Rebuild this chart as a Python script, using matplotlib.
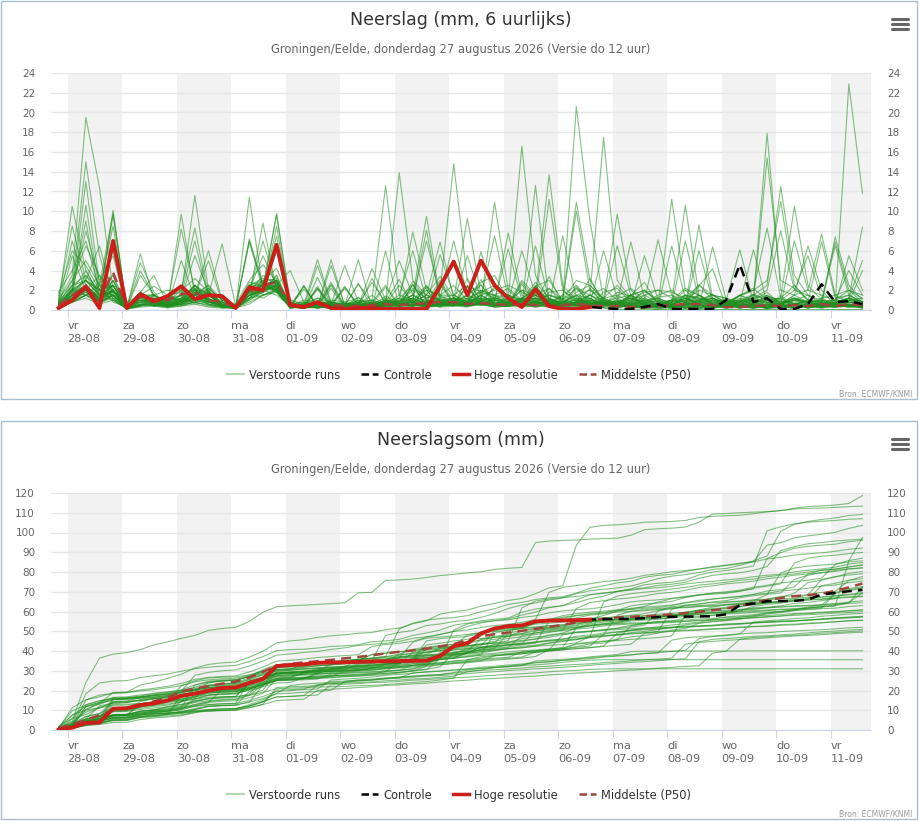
import numpy as np
import matplotlib
matplotlib.use("Agg")
import matplotlib.pyplot as plt
from matplotlib.lines import Line2D
from matplotlib.patches import Rectangle

plt.rcParams['font.family'] = ['DejaVu Sans']

# tijd-as: 60 stappen van 6 uur, eerste stap eindigt do 20:00 (4 uur voor vr 00:00)
n_steps = 60
start_hour = -4
day_names = ['vr', 'za', 'zo', 'ma', 'di', 'wo', 'do', 'vr', 'za', 'zo', 'ma', 'di', 'wo', 'do', 'vr']
day_dates = ['28-08', '29-08', '30-08', '31-08', '01-09', '02-09', '03-09', '04-09',
             '05-09', '06-09', '07-09', '08-09', '09-09', '10-09', '11-09']

# neerslag per 6 uur (mm), 50 verstoorde runs; blokken: eerste stap | dag 0 | dag 1 | ...
members_6h = [
    "1.0 | 3.5 19.5 12.4 2.0 | 0.8 1.5 2.4 1.5 | 1.8 1.5 2.5 1.0 | 0.6 3.0 4.6 2.8 | 0.5 0.3 0.4 0.4 | 0.4 5.1 0.2 6.0 | 0.3 0.4 0.8 1.0 | 0.6 0.8 0.5 1.2 | 0.6 0.4 12.6 0.8 | 0.3 0.2 0.4 0.3 | 0.2 1.5 2.8 0.5 | 0.3 0.6 2.4 4.2 | 0.2 0.4 0.3 0.2 | 0.6 0.8 0.3 0.2 | 0.3 0.4 0.2",
    "0.5 | 2.0 8.0 3.0 5.5 | 0.2 3.5 1.5 2.0 | 2.0 3.2 1.8 0.8 | 0.4 2.5 3.0 4.2 | 1.0 0.6 1.2 0.8 | 0.5 0.8 0.4 1.4 | 0.8 2.2 1.5 3.4 | 1.2 0.8 2.0 1.4 | 1.5 1.0 2.4 3.0 | 1.0 20.6 9.0 1.0 | 0.3 0.5 0.8 0.2 | 0.2 0.5 1.5 0.6 | 0.3 0.2 0.8 1.0 | 0.6 1.2 0.8 0.4 | 0.4 0.8 4.0",
    "0.8 | 10.5 4.0 1.5 2.0 | 0.3 1.2 0.8 1.0 | 1.5 2.0 1.0 0.5 | 0.3 2.0 2.5 3.0 | 0.4 0.6 0.8 0.5 | 0.5 0.4 4.2 1.0 | 0.6 1.0 2.0 1.5 | 1.5 2.5 1.8 1.2 | 0.8 2.0 1.5 2.2 | 1.0 3.0 2.5 1.0 | 0.6 1.5 2.0 0.8 | 0.5 1.2 2.5 1.5 | 0.8 1.0 1.2 17.9 | 2.0 1.5 0.8 0.5 | 0.4 0.6 0.3",
    "1.2 | 8.5 3.0 2.0 1.5 | 0.2 0.8 1.5 0.6 | 0.8 1.5 2.2 1.0 | 0.5 1.8 3.5 2.5 | 0.3 0.2 0.5 0.4 | 0.3 1.0 0.6 0.8 | 1.2 2.5 1.0 0.8 | 0.6 1.5 2.8 3.5 | 1.0 0.8 2.0 1.2 | 0.5 1.2 0.8 0.6 | 1.4 2.2 1.0 0.5 | 0.8 2.0 1.5 0.6 | 0.4 0.8 1.0 15.4 | 3.0 2.2 1.0 0.6 | 0.5 1.2 0.8",
    "0.6 | 7.0 2.5 1.0 3.0 | 0.2 0.5 1.0 1.2 | 2.0 1.5 1.0 0.8 | 0.4 2.2 1.8 3.5 | 0.5 1.0 0.8 0.6 | 0.4 0.8 1.0 12.6 | 1.5 1.0 2.5 0.8 | 1.2 0.6 1.5 2.0 | 2.5 1.8 1.0 1.5 | 1.0 2.2 1.5 0.8 | 0.6 1.0 1.8 2.0 | 1.2 0.8 1.0 1.6 | 0.5 1.5 2.0 8.3 | 1.2 2.5 1.0 0.8 | 1.0 2.0 1.5",
    "1.5 | 6.0 4.5 2.0 2.5 | 0.3 1.0 0.5 0.8 | 1.2 2.5 1.5 0.6 | 0.5 1.5 2.5 2.0 | 0.8 0.5 1.2 0.4 | 0.6 1.0 0.5 0.8 | 13.9 3.0 1.5 0.8 | 0.5 1.0 2.0 1.5 | 2.2 1.0 1.5 0.8 | 0.6 1.8 2.5 1.2 | 1.5 0.8 2.0 1.0 | 0.5 1.5 1.2 0.8 | 1.0 0.8 1.5 2.5 | 12.5 3.5 1.5 1.0 | 0.8 1.2 0.6",
    "0.3 | 5.5 2.0 3.5 1.2 | 0.1 0.6 1.2 0.5 | 0.8 1.0 2.0 0.4 | 0.3 1.5 3.0 2.2 | 0.2 0.3 0.6 0.3 | 0.3 0.5 0.2 1.0 | 5.0 1.5 0.8 0.6 | 0.4 1.2 1.8 2.5 | 1.0 2.0 0.8 0.5 | 1.5 2.5 1.0 0.6 | 0.8 1.2 0.5 0.3 | 1.0 2.2 1.5 0.8 | 0.6 1.4 2.0 3.0 | 11.0 2.5 1.0 0.5 | 0.6 1.0 0.5",
    "0.8 | 2.5 15.0 5.5 1.0 | 0.2 1.5 1.0 0.8 | 1.5 1.2 0.8 0.5 | 0.4 2.0 2.5 3.0 | 0.5 0.2 0.6 0.8 | 0.3 0.6 1.5 0.4 | 0.8 2.0 1.2 1.5 | 2.5 1.0 1.2 0.8 | 0.6 3.0 1.5 1.0 | 0.8 1.5 2.0 1.2 | 2.5 1.0 0.8 1.2 | 0.6 1.0 2.0 1.5 | 0.8 0.5 1.2 2.0 | 8.0 2.0 1.5 0.6 | 0.8 0.5 0.4",
    "0.4 | 1.8 13.0 2.5 0.8 | 0.3 1.0 0.6 1.0 | 1.0 2.5 1.5 0.3 | 0.2 1.0 2.0 2.5 | 0.3 0.5 0.4 0.2 | 0.2 0.3 0.8 0.5 | 1.0 7.9 2.0 0.6 | 0.5 0.8 1.0 2.2 | 1.5 0.6 0.4 1.8 | 2.0 1.0 0.8 0.5 | 0.6 0.4 1.5 2.0 | 1.8 1.2 0.6 0.5 | 0.4 1.0 1.6 1.0 | 1.2 10.5 2.5 1.0 | 0.5 0.8 0.6",
    "0.2 | 1.2 10.6 1.8 1.5 | 0.2 0.6 0.4 0.5 | 0.8 1.2 0.6 0.4 | 0.3 1.2 2.8 3.2 | 0.6 0.3 0.2 0.5 | 0.8 0.4 1.0 0.6 | 1.5 6.0 1.0 0.5 | 1.0 1.5 2.5 1.0 | 0.8 1.2 2.0 0.6 | 0.5 0.8 1.5 2.2 | 1.0 0.6 0.8 1.5 | 2.0 0.8 0.5 1.2 | 0.6 1.5 1.0 0.8 | 0.5 7.0 2.0 1.5 | 1.0 0.8 0.5",
    "0.6 | 2.2 9.0 1.2 2.5 | 0.4 1.0 0.8 0.3 | 1.2 0.8 1.5 0.6 | 0.2 1.5 2.0 3.5 | 0.2 0.4 0.3 0.6 | 0.5 0.2 0.6 1.2 | 0.8 1.5 9.5 1.2 | 0.6 0.4 1.8 1.5 | 1.0 0.8 1.2 0.5 | 0.6 1.0 0.5 1.8 | 2.2 0.8 0.6 0.4 | 1.0 1.5 1.2 0.6 | 0.8 0.5 1.0 1.8 | 0.6 1.5 6.5 2.0 | 0.5 1.0 1.2",
    "1.8 | 4.0 7.0 2.0 1.0 | 0.2 0.4 1.5 0.8 | 0.6 1.0 2.2 1.0 | 0.4 2.5 1.5 2.0 | 0.3 0.6 0.2 0.4 | 0.4 0.3 0.8 0.5 | 0.6 1.0 8.1 0.8 | 1.2 0.8 0.5 1.0 | 0.8 0.5 1.5 0.6 | 0.4 0.8 1.2 0.5 | 0.6 1.5 2.0 0.8 | 0.5 0.6 1.0 1.5 | 1.2 0.8 0.6 1.4 | 1.0 2.0 5.5 1.2 | 1.5 2.0 0.8",
    "0.5 | 3.0 6.5 3.5 2.0 | 0.4 0.8 0.5 1.2 | 1.5 0.6 0.8 0.4 | 0.3 1.8 2.2 2.8 | 0.4 0.2 0.8 0.3 | 0.2 0.6 0.4 0.8 | 0.5 1.2 7.0 1.5 | 0.8 1.2 0.6 0.5 | 1.5 1.0 0.8 1.2 | 0.6 0.5 1.5 1.0 | 0.8 1.2 0.6 0.5 | 1.0 0.8 1.5 0.6 | 0.5 1.2 0.8 1.0 | 0.6 1.5 2.0 7.7 | 1.5 0.8 0.6",
    "0.2 | 2.5 3.0 6.5 1.5 | 0.2 1.2 0.6 0.4 | 0.8 1.5 1.0 0.6 | 0.2 1.2 2.5 2.0 | 0.5 0.3 0.6 0.2 | 0.3 0.2 0.5 1.0 | 0.6 0.8 1.5 6.9 | 1.2 0.5 0.8 1.5 | 0.6 1.0 1.2 0.8 | 1.5 0.8 0.5 1.2 | 0.6 1.5 1.0 0.8 | 0.5 1.2 0.6 1.0 | 0.8 1.5 2.2 1.0 | 0.6 1.2 0.8 6.9 | 1.2 1.5 0.8",
    "0.4 | 1.5 2.5 1.0 10.1 | 0.1 0.6 0.4 1.0 | 0.5 0.8 1.2 0.3 | 0.2 0.8 1.5 2.2 | 0.3 0.5 0.2 0.4 | 0.6 0.3 0.2 0.5 | 0.8 1.0 0.6 5.6 | 1.5 0.8 0.6 1.2 | 1.0 0.5 0.8 1.5 | 1.2 0.6 1.0 0.8 | 0.5 1.2 0.6 1.0 | 0.8 1.5 1.0 0.6 | 0.5 0.8 1.2 1.5 | 0.6 1.0 0.8 0.5 | 7.4 2.5 1.0",
    "0.3 | 2.0 1.5 2.5 9.8 | 0.2 0.5 0.8 0.6 | 1.0 1.5 0.6 0.4 | 0.3 1.5 2.0 2.6 | 0.6 0.4 0.3 0.2 | 0.4 0.5 0.8 0.3 | 0.5 0.6 1.2 2.0 | 14.8 3.0 1.0 0.6 | 0.5 1.2 0.8 1.5 | 1.0 0.6 0.5 0.8 | 1.2 1.5 0.6 0.4 | 0.8 0.5 1.0 1.2 | 0.6 0.8 1.5 1.0 | 1.2 0.6 0.8 1.0 | 6.9 2.0 1.2",
    "0.6 | 1.0 2.0 1.2 9.6 | 0.2 0.4 1.0 0.5 | 0.6 1.2 0.8 0.5 | 0.2 1.0 1.8 2.4 | 0.4 0.6 0.2 0.5 | 0.2 0.4 0.6 0.8 | 0.5 1.0 0.6 1.2 | 7.0 1.5 0.8 0.6 | 1.0 0.6 1.2 0.5 | 0.8 1.5 0.6 1.0 | 0.5 0.8 1.2 0.6 | 1.0 0.6 0.8 1.5 | 1.2 0.5 0.6 0.8 | 0.6 1.0 1.5 0.8 | 6.5 1.5 0.8",
    "0.2 | 0.8 1.5 2.0 8.5 | 0.1 0.4 0.6 0.3 | 0.4 0.8 1.0 0.2 | 0.2 0.6 1.5 1.8 | 0.3 0.2 0.4 0.1 | 0.2 0.3 0.2 0.4 | 0.5 0.6 0.4 0.8 | 1.0 9.3 1.5 0.6 | 0.4 0.5 0.8 0.6 | 0.8 1.5 1.2 0.5 | 1.8 1.4 0.6 1.3 | 1.5 0.8 2.6 1.0 | 0.6 1.5 0.8 1.4 | 0.6 1.0 0.8 0.5 | 0.6 22.9 11.8",
    "0.8 | 2.5 3.5 1.5 6.0 | 0.3 1.8 0.9 0.6 | 0.8 1.6 2.5 0.4 | 0.3 2.2 3.0 1.8 | 0.2 2.5 0.4 0.8 | 0.6 0.2 3.2 0.5 | 0.8 0.5 1.0 0.6 | 0.8 5.5 1.2 0.5 | 0.6 1.0 2.8 1.2 | 0.5 0.8 1.5 0.6 | 1.0 0.2 0.4 0.6 | 0.3 1.5 0.2 0.5 | 1.2 0.3 1.0 0.2 | 1.5 0.2 0.6 1.2 | 0.5 5.5 2.0",
    "0.3 | 1.2 2.0 0.8 3.0 | 0.2 5.7 1.0 0.5 | 0.6 2.0 1.8 0.3 | 0.2 2.5 3.2 3.0 | 0.3 0.4 2.2 0.6 | 0.4 1.3 0.2 0.6 | 2.5 0.8 0.4 0.6 | 0.8 0.6 5.9 1.0 | 0.5 2.8 1.2 0.6 | 0.8 1.4 0.6 0.8 | 0.6 0.4 0.2 0.5 | 0.2 0.6 0.4 0.8 | 0.5 0.5 1.6 0.2 | 0.8 1.2 0.5 0.9 | 1.0 4.0 1.5",
    "0.5 | 1.8 2.5 1.2 1.5 | 0.3 4.8 1.8 0.4 | 0.8 1.5 1.6 0.4 | 0.2 1.5 2.5 2.0 | 0.4 0.2 3.3 0.5 | 0.3 0.4 0.6 2.3 | 0.4 0.6 0.5 0.8 | 0.6 1.0 0.8 10.9 | 2.0 0.8 0.5 0.6 | 0.5 1.2 0.4 0.6 | 0.6 0.4 0.2 0.5 | 0.2 0.8 0.3 0.4 | 0.3 0.5 0.2 0.6 | 0.4 0.2 0.5 0.8 | 0.6 1.2 8.4",
    "0.2 | 2.2 1.5 2.8 3.5 | 0.2 4.0 1.5 0.8 | 1.0 2.2 0.8 0.5 | 0.3 2.8 2.5 2.2 | 0.2 0.5 0.6 2.8 | 0.5 0.4 0.3 0.8 | 3.1 0.4 0.5 1.0 | 0.5 0.8 1.2 7.5 | 1.2 0.6 2.4 0.8 | 0.3 0.5 0.6 0.4 | 0.2 0.5 0.3 0.1 | 0.4 0.2 0.5 0.3 | 0.2 0.4 0.5 0.2 | 0.5 0.3 0.4 0.6 | 0.8 1.2 5.0",
    "0.4 | 1.5 3.0 2.0 2.5 | 0.2 1.8 3.5 0.6 | 0.8 2.5 1.0 0.4 | 0.2 2.2 2.8 1.8 | 0.3 0.6 0.4 2.6 | 0.4 0.6 0.2 0.5 | 0.8 2.9 1.0 0.6 | 1.2 0.6 0.5 0.8 | 7.8 1.5 0.8 0.6 | 0.5 0.8 2.2 0.6 | 0.2 0.6 0.3 0.5 | 0.4 0.3 1.0 0.2 | 0.5 0.8 0.2 1.0 | 0.3 0.6 0.2 0.5 | 0.4 0.8 0.6",
    "0.2 | 0.8 1.5 0.6 2.0 | 0.1 1.4 0.8 0.5 | 9.7 1.5 5.0 0.8 | 0.2 2.0 2.5 2.0 | 0.2 0.4 0.3 0.5 | 2.4 0.2 0.5 0.4 | 0.6 0.4 0.8 3.0 | 0.8 0.5 0.6 1.0 | 6.2 1.0 0.6 0.8 | 0.4 0.6 0.8 0.5 | 0.5 0.2 0.3 0.4 | 0.2 0.8 0.1 0.4 | 0.8 0.2 0.6 0.1 | 0.4 0.6 0.2 0.5 | 0.3 0.8 0.5",
    "0.8 | 2.0 4.0 1.5 3.0 | 0.3 1.2 0.8 0.6 | 8.2 2.0 1.0 0.5 | 0.3 1.5 2.0 2.8 | 0.4 0.8 0.5 0.3 | 0.5 0.6 0.4 1.0 | 0.8 1.2 0.6 0.5 | 1.0 0.8 1.5 0.6 | 1.2 16.6 3.5 1.0 | 0.8 0.5 1.0 0.6 | 1.0 0.6 0.8 0.5 | 0.6 1.2 0.8 0.5 | 0.8 0.6 1.0 0.8 | 0.5 1.2 0.8 0.6 | 1.0 1.5 0.8",
    "0.3 | 1.0 2.0 1.2 1.8 | 0.2 1.6 1.0 0.4 | 5.0 1.2 1.8 0.6 | 0.3 2.5 2.5 3.0 | 0.4 2.1 0.6 0.2 | 0.2 0.5 0.3 0.6 | 0.8 1.5 0.8 1.4 | 0.6 3.2 0.8 0.5 | 0.8 6.0 1.5 0.6 | 0.5 0.8 0.6 1.0 | 0.6 0.4 0.2 0.3 | 0.2 0.5 0.6 0.1 | 0.5 0.3 0.6 0.4 | 0.2 1.0 0.3 0.5 | 0.3 0.6 0.4",
    "0.6 | 1.2 2.5 0.8 1.5 | 0.1 1.5 0.6 0.8 | 1.5 11.6 2.0 0.6 | 0.2 1.8 1.2 2.0 | 0.3 0.2 0.5 0.4 | 0.4 2.7 0.2 0.5 | 0.6 0.4 0.8 0.5 | 0.5 0.8 2.6 0.4 | 0.8 0.6 6.5 1.0 | 0.4 0.6 0.5 0.8 | 0.3 0.4 0.1 0.6 | 0.2 0.5 0.6 0.2 | 0.6 0.2 0.5 0.3 | 0.4 0.6 0.2 0.5 | 0.3 0.4 0.5",
    "1.0 | 3.0 5.0 2.5 2.0 | 0.4 1.5 1.2 0.8 | 2.0 8.3 1.5 0.8 | 0.4 2.0 2.5 3.0 | 0.6 0.8 0.5 1.0 | 0.8 1.2 0.6 0.5 | 1.0 1.5 0.8 1.2 | 1.5 0.8 1.2 1.0 | 0.6 1.0 1.5 13.7 | 2.5 1.0 0.8 1.2 | 0.6 1.0 1.5 0.8 | 1.0 0.6 0.8 1.2 | 0.8 1.0 0.6 1.5 | 0.8 1.2 0.6 0.5 | 0.8 1.0 0.6",
    "0.4 | 1.5 3.5 2.0 2.5 | 0.3 0.8 1.0 0.6 | 1.5 7.0 1.2 0.4 | 0.3 1.5 2.0 2.2 | 0.5 0.4 0.8 0.6 | 0.6 0.8 0.4 1.0 | 0.8 1.2 0.6 1.0 | 1.2 0.6 1.5 0.8 | 0.5 1.2 0.8 11.2 | 2.0 0.8 1.0 0.6 | 0.8 1.2 0.6 0.5 | 0.6 1.0 0.8 1.2 | 0.6 0.8 1.0 0.5 | 1.2 0.6 0.8 1.0 | 0.6 1.2 0.8",
    "0.2 | 0.8 1.5 1.0 2.0 | 0.2 1.6 1.4 0.5 | 1.2 5.5 1.8 0.4 | 0.2 2.2 2.5 2.5 | 0.3 0.2 2.4 0.2 | 0.3 0.4 0.2 0.5 | 0.4 0.6 2.3 0.8 | 0.6 0.4 0.8 0.5 | 0.4 2.6 0.8 0.5 | 7.5 1.2 0.6 0.4 | 0.5 0.3 0.4 0.2 | 0.3 0.5 0.1 0.4 | 0.6 0.2 0.5 0.3 | 0.4 0.1 0.5 0.2 | 0.5 0.3 0.4",
    "0.5 | 2.0 3.0 1.5 3.5 | 0.3 1.0 0.8 1.2 | 1.0 1.5 6.0 1.0 | 0.3 1.8 2.5 2.8 | 0.5 0.6 0.8 0.4 | 0.6 0.8 1.0 0.5 | 1.2 0.8 1.5 1.0 | 0.8 1.5 1.0 1.2 | 1.5 0.8 1.2 1.0 | 1.2 10.9 3.0 1.0 | 0.8 0.6 1.0 1.2 | 0.6 1.0 1.5 0.8 | 1.0 0.6 0.8 1.2 | 0.8 1.0 0.6 0.5 | 0.8 1.2 0.6",
    "0.3 | 1.5 2.5 1.2 2.0 | 0.2 0.8 1.2 0.6 | 0.8 1.2 1.5 6.7 | 0.4 1.5 2.0 2.5 | 0.4 0.5 0.3 0.6 | 0.5 0.6 0.4 0.8 | 0.6 1.0 0.8 0.6 | 1.0 0.6 0.8 1.2 | 0.8 1.0 0.6 0.8 | 1.0 10.0 2.0 0.8 | 0.6 0.8 1.0 0.5 | 0.8 1.2 0.6 1.0 | 0.5 0.8 1.2 0.6 | 1.0 0.6 0.8 0.5 | 0.6 1.0 0.8",
    "0.6 | 1.2 2.0 0.8 1.5 | 0.1 1.4 1.6 0.3 | 0.6 2.0 0.8 0.4 | 0.2 11.4 2.0 1.5 | 0.4 0.2 0.6 0.3 | 2.3 0.5 0.2 0.6 | 0.5 0.8 0.4 0.6 | 0.8 2.4 0.6 1.0 | 0.6 0.4 0.8 0.5 | 0.4 0.8 3.2 0.6 | 0.5 0.3 0.4 0.2 | 0.6 0.4 0.2 0.5 | 0.3 0.6 0.4 0.2 | 0.5 0.2 0.6 0.4 | 0.6 0.5 0.3",
    "0.4 | 1.8 3.0 1.5 2.5 | 0.2 1.0 0.8 0.6 | 1.2 1.8 1.0 0.8 | 0.3 7.2 2.5 2.0 | 0.5 0.4 0.6 0.8 | 0.4 0.6 0.5 0.8 | 0.8 1.2 0.6 1.0 | 1.2 0.8 1.0 0.6 | 0.8 1.2 0.6 1.0 | 0.8 1.0 1.5 17.5 | 3.0 1.2 0.8 0.6 | 1.0 0.8 1.2 0.6 | 0.8 1.0 0.6 1.2 | 0.8 0.6 1.0 0.8 | 0.6 1.2 0.8",
    "0.2 | 0.8 1.5 1.0 1.2 | 0.1 1.5 0.4 1.6 | 0.8 1.2 1.6 0.4 | 0.2 7.0 2.5 1.8 | 0.3 2.4 0.2 0.5 | 0.4 0.2 0.6 0.3 | 0.5 0.6 2.4 0.8 | 0.6 0.4 0.8 0.5 | 0.6 0.5 0.8 3.4 | 0.5 0.8 0.6 6.0 | 1.2 0.6 0.4 0.5 | 0.6 0.2 0.4 0.3 | 0.5 0.3 0.8 0.2 | 0.2 0.5 0.3 0.8 | 0.5 0.3 0.4",
    "0.5 | 1.5 2.5 1.2 2.0 | 0.2 1.6 0.8 1.5 | 1.0 1.5 1.8 0.6 | 0.3 6.9 2.0 2.5 | 0.4 0.5 0.3 0.6 | 0.5 2.6 0.8 0.6 | 0.6 0.8 0.5 1.0 | 0.8 0.6 3.1 0.5 | 0.6 0.8 0.5 1.0 | 0.6 0.8 0.5 1.0 | 9.7 2.0 0.8 0.6 | 0.4 0.2 0.6 0.3 | 0.6 0.3 0.5 0.2 | 0.4 0.6 0.3 0.5 | 0.6 0.4 0.5",
    "0.3 | 1.0 1.8 0.6 1.5 | 0.1 1.3 1.5 0.4 | 0.6 1.8 1.2 0.3 | 0.2 1.5 8.8 2.0 | 0.3 0.2 0.4 2.5 | 0.3 0.4 0.2 0.6 | 0.4 2.6 0.3 0.5 | 0.6 0.4 0.8 0.5 | 0.4 0.6 2.5 0.8 | 0.5 0.4 0.6 0.8 | 6.5 1.5 0.6 0.4 | 0.5 0.2 0.4 0.3 | 0.6 0.4 0.2 0.6 | 0.4 0.2 0.5 0.3 | 0.6 0.4 0.5",
    "0.8 | 1.5 2.0 1.0 2.5 | 0.2 1.6 0.4 1.4 | 0.8 2.5 1.0 0.5 | 0.3 1.8 7.0 2.2 | 0.4 0.3 2.1 0.2 | 0.2 0.5 0.4 0.6 | 0.5 0.8 0.4 2.6 | 0.6 0.5 0.8 0.4 | 0.8 0.5 0.4 0.6 | 0.4 2.2 0.8 0.5 | 0.8 6.9 1.2 0.5 | 0.4 0.2 0.5 0.3 | 0.3 0.4 0.2 0.5 | 0.6 0.2 0.4 0.3 | 0.5 0.3 0.4",
    "0.4 | 1.2 2.2 1.5 2.0 | 0.3 1.8 0.6 0.5 | 1.0 1.2 1.8 0.6 | 0.4 2.0 5.5 2.5 | 0.5 0.3 0.4 0.6 | 2.2 0.6 0.3 0.5 | 0.6 0.4 0.8 0.5 | 0.5 0.8 0.6 2.4 | 0.6 0.5 0.8 0.6 | 0.5 0.8 0.4 0.6 | 0.6 0.5 5.5 1.0 | 0.3 0.4 0.2 0.5 | 0.2 0.6 0.3 0.4 | 0.6 0.2 0.5 0.3 | 0.4 0.5 0.2",
    "0.6 | 2.0 3.0 1.5 2.5 | 0.3 1.8 0.8 0.6 | 1.2 2.5 1.0 0.5 | 0.3 1.5 2.0 9.8 | 0.8 0.4 0.5 0.6 | 0.5 0.6 2.8 0.8 | 0.6 0.8 0.5 0.6 | 0.8 0.5 0.6 0.8 | 0.5 0.8 0.6 2.2 | 0.6 0.8 0.5 0.6 | 0.8 0.6 1.0 7.1 | 1.5 0.2 0.5 0.3 | 0.6 0.2 0.4 0.6 | 0.2 0.5 0.6 0.3 | 0.5 0.6 0.3",
    "0.3 | 1.5 2.5 1.0 2.0 | 0.2 1.8 1.0 0.5 | 1.0 2.2 0.8 0.6 | 0.3 2.0 2.5 9.6 | 0.5 0.6 0.4 0.3 | 0.6 0.4 0.8 2.5 | 0.5 0.8 0.6 0.4 | 0.6 2.4 0.5 0.6 | 0.8 0.5 0.6 0.8 | 0.5 0.6 0.8 0.5 | 0.6 0.8 0.5 0.6 | 11.2 2.0 0.8 0.6 | 0.3 0.5 0.2 0.4 | 0.6 0.2 0.5 0.3 | 0.5 0.4 0.6",
    "0.2 | 0.8 1.2 0.6 1.0 | 0.1 1.4 0.8 0.5 | 0.6 1.8 0.5 0.3 | 0.2 1.2 1.8 8.5 | 0.4 0.2 0.3 2.2 | 0.2 0.4 0.3 0.5 | 0.4 2.6 0.3 0.5 | 0.5 0.4 0.6 0.3 | 0.4 0.6 2.3 0.5 | 0.4 0.5 0.3 0.6 | 0.5 0.4 0.6 0.3 | 6.5 1.2 0.5 0.4 | 0.5 0.6 0.4 0.2 | 0.5 0.4 0.3 0.3 | 0.4 0.5 0.3",
    "0.5 | 1.2 2.0 1.5 1.8 | 0.2 1.6 0.8 0.4 | 0.8 2.2 1.0 0.5 | 0.3 1.5 2.2 7.5 | 0.5 2.4 0.3 0.6 | 0.4 0.5 0.6 0.3 | 0.5 0.6 0.4 2.8 | 0.6 0.5 0.8 0.4 | 0.5 0.6 0.4 0.8 | 0.6 2.4 0.5 0.8 | 0.5 0.6 0.4 0.5 | 0.8 10.6 1.5 0.6 | 0.2 0.6 0.4 0.3 | 0.5 0.2 0.4 0.3 | 0.6 0.4 0.2",
    "0.3 | 1.0 1.5 0.8 1.2 | 0.1 1.5 0.4 0.3 | 0.6 1.0 1.6 0.4 | 0.2 1.2 2.0 6.0 | 0.3 0.4 2.2 0.5 | 0.3 0.2 0.4 0.5 | 0.4 0.5 0.3 0.6 | 0.5 2.4 0.6 0.3 | 0.4 0.5 0.6 0.3 | 0.5 0.4 0.3 0.6 | 0.4 0.5 0.6 0.3 | 0.5 7.0 1.0 0.4 | 0.6 0.4 0.3 0.6 | 0.4 0.5 0.3 0.4 | 0.5 0.4 0.3",
    "0.4 | 1.0 1.8 1.2 1.5 | 0.2 1.6 0.5 0.4 | 0.8 1.0 1.6 0.5 | 0.2 1.5 1.8 2.5 | 4.0 0.8 0.4 0.3 | 0.4 0.5 0.3 0.6 | 0.5 0.4 0.6 0.3 | 0.4 0.6 0.5 0.4 | 0.6 0.4 0.5 0.3 | 0.5 0.4 0.6 0.5 | 0.4 0.6 0.3 0.5 | 0.6 0.4 8.6 1.2 | 0.4 0.5 0.6 0.3 | 0.5 0.4 0.6 0.5 | 0.4 0.5 0.3",
    "0.2 | 1.5 2.5 1.2 2.0 | 0.1 0.3 0.4 0.2 | 0.4 0.6 0.3 0.2 | 0.3 1.8 2.5 2.2 | 0.3 0.5 5.1 0.8 | 0.6 0.8 0.5 1.0 | 0.4 0.6 0.3 0.4 | 0.8 0.6 1.0 1.2 | 0.8 0.6 1.0 0.5 | 0.8 0.6 1.2 0.5 | 0.6 1.5 0.2 0 | 0 0.1 0 0 | 0 0 0.1 0 | 0 0 0 0 | 0 0 0",
    "0.6 | 1.2 2.0 0.8 1.5 | 0.2 0.5 0.6 0.4 | 0.6 0.8 0.5 0.3 | 0.2 1.2 1.5 2.0 | 0.4 0.3 4.5 0.6 | 0.3 0.5 0.4 0.6 | 0.4 0.5 0.3 0.6 | 0.5 0.4 0.6 0.3 | 0.4 0.5 0.3 0.6 | 0.4 0.5 0.3 0.4 | 0.5 0.3 0.4 0.6 | 0.4 0.5 0.3 6.4 | 1.0 6.1 0.8 0.4 | 0.5 0.3 0.4 0.6 | 0.3 0.5 0.4",
    "0.3 | 1.5 2.5 1.0 2.0 | 0.1 0.4 0.5 0.3 | 0.5 0.8 0.4 0.3 | 0.2 1.5 2.0 2.5 | 0.2 0.4 0.3 5.1 | 0.4 0.3 0.5 0.2 | 0.4 0.6 0.3 0.5 | 0.4 0.3 0.6 0.4 | 0.5 0.3 0.4 0.6 | 0.4 0.3 0.5 0.2 | 0.1 0 0 0 | 0 0 0 0 | 0 0 0 0 | 0 0 0 0 | 0 0 0",
    "0.5 | 1.5 2.5 1.2 2.0 | 0.2 0.8 0.6 0.5 | 1.0 1.2 0.8 0.4 | 0.3 1.5 2.0 2.5 | 0.4 0.6 0.3 4.5 | 0.5 0.4 0.6 0.8 | 0.6 0.5 0.8 0.4 | 0.5 0.6 0.8 0.5 | 0.6 0.5 0.8 0.4 | 0.6 0.5 0.4 0.8 | 0.5 0.6 0.8 0.4 | 0.6 0.5 6.0 1.0 | 0.5 0.8 6.1 0.6 | 0.5 0.6 0.4 0.8 | 0.5 0.6 0.4",
    "0.4 | 1.2 2.0 1.0 1.5 | 0.2 0.6 0.5 0.4 | 0.8 1.0 0.6 0.3 | 0.3 2.0 2.5 3.0 | 0.3 0.5 0.4 0.6 | 4.5 0.8 0.4 0.5 | 0.5 0.4 0.6 0.3 | 1.0 1.2 0.8 0.6 | 0.4 0.6 0.3 0.5 | 0.8 0.6 0.5 0.2 | 0 0 0 0 | 0 0 0 0 | 0 0 0 0 | 0 0 0 0 | 0 0 0",
]

# hoge resolutie (10 dagen, 40 stappen)
hres_6h = [0.2, 1.0, 2.4, 0.2, 7.0, 0.2, 1.6, 0.9, 1.4, 2.4, 1.1, 1.5, 1.4, 0.2, 2.3, 2.0,
           6.6, 0.5, 0.3, 0.8, 0.2, 0.1, 0.2, 0.2, 0.1, 0.1, 0.1, 0.1, 2.4, 4.9, 1.5, 5.0,
           2.5, 1.2, 0.3, 2.1, 0.4, 0.1, 0.1, 0.3]
# controle run na dag 10 (daarvoor gelijk aan hoge resolutie)
control_tail_6h = [0.2, 0.1, 0.1, 0.3, 0.6, 0.1, 0.1, 0.1, 0.1, 1.0, 4.6, 0.8, 1.2, 0.1,
                   0.1, 0.6, 2.6, 0.8, 0.9, 0.6]
# mediaan per 6 uur
p50_6h = [0.5, 1.5, 2.2, 1.0, 3.8, 0.2, 1.4, 0.8, 1.0, 1.6, 1.8, 1.0, 0.8, 0.3, 1.8, 2.5,
          2.8, 0.6, 0.4, 0.5, 0.5, 0.4, 0.4, 0.5, 0.6, 0.5, 0.6, 0.7, 0.8, 0.8, 0.6, 0.7,
          0.6, 0.5, 0.6, 0.5, 0.4, 0.5, 0.6, 0.5, 0.4, 0.4, 0.3, 0.3, 0.4, 0.5, 0.6, 0.6,
          0.5, 0.3, 0.3, 0.4, 0.5, 0.4, 0.5, 0.4, 0.6, 0.4, 0.6, 0.5]
# mediaan van de neerslagsom
p50_sum = [1.0, 2.8, 5.2, 7.5, 10.0, 11.2, 12.8, 14.5, 16.5, 19.5, 21.0, 22.2, 23.5, 24.5,
           26.5, 29.5, 32.5, 33.5, 34.2, 34.8, 35.5, 36.3, 37.0, 37.8, 38.8, 39.6, 40.3,
           41.2, 42.3, 43.5, 45.5, 47.5, 48.5, 49.3, 50.2, 51.2, 52.2, 53.2, 54.5, 55.6,
           56.3, 57.0, 57.3, 57.6, 58.0, 58.5, 59.2, 59.8, 60.6, 61.5, 63.0, 64.2, 65.8,
           66.8, 67.8, 68.3, 69.0, 70.5, 72.2, 74.2]

members = np.array([[float(v) for v in s.replace('|', ' ').split()] for s in members_6h])
hres = np.array(hres_6h)
control = np.concatenate([hres, control_tail_6h])
times = (start_hour + 6 * np.arange(n_steps)) / 24.0

GREEN = '#1f8f1f'
RED = '#cc1f1a'
BROWN = '#a0443c'
W, H = 919, 821


def fx(px):
    return px / W


def fy(py):
    return 1 - py / H


fig = plt.figure(figsize=(9.19, 8.21), dpi=100)


def draw_panel(top, title, ymax, ystep, ens, hr, ctrl, med):
    # kader
    fig.add_artist(Rectangle((fx(1), fy(top + 398)), fx(916), 398 / H, transform=fig.transFigure,
                             fill=False, ec='#a9c0d3', lw=1))
    fig.text(fx(461), fy(top + 19), title, ha='center', va='center', fontsize=12.5, color='#333333')
    fig.text(fx(461), fy(top + 48), 'Groningen/Eelde, donderdag 27 augustus 2026 (Versie do 12 uur)',
             ha='center', va='center', fontsize=8.3, color='#666666')
    for dy in (-5, 0, 5):
        fig.add_artist(Line2D([fx(892), fx(908)], [fy(top + 23 + dy)] * 2, transform=fig.transFigure,
                              color='#666666', lw=2.2, solid_capstyle='round'))

    ax = fig.add_axes([fx(51), fy(top + 309), fx(820), 237 / H])
    for d in range(0, 15, 2):
        ax.axvspan(d, d + 1, color='#f2f2f2', lw=0, zorder=0)
    for row in ens:
        ax.plot(times, row, color=GREEN, alpha=0.55, lw=0.8, zorder=2)
    ax.plot(times, med, color=BROWN, lw=1.8, ls=(0, (4, 2.5)), zorder=3)
    ax.plot(times, ctrl, color='black', lw=1.8, ls=(0, (4, 2.5)), zorder=4)
    ax.plot(times[:len(hr)], hr, color=RED, lw=2.8, zorder=5)

    ax.set_xlim(-0.306, 14.74)
    ax.set_ylim(0, ymax)
    ax.set_yticks(np.arange(0, ymax + 1, ystep))
    ax.yaxis.grid(True, color='#e6e6e6', lw=1)
    ax.set_axisbelow(True)
    ax.tick_params(axis='y', length=0, labelsize=7.5, labelcolor='#666666', pad=11.5,
                   labelright=True)
    ax.set_xticks(np.arange(15))
    ax.set_xticklabels([f'{a}\n{b}' for a, b in zip(day_names, day_dates)], ha='left',
                       linespacing=1.3)
    ax.tick_params(axis='x', length=6, color='#ccd6eb', labelsize=8.2, labelcolor='#666666', pad=2)
    for s in ('top', 'left', 'right'):
        ax.spines[s].set_visible(False)
    ax.spines['bottom'].set_color('#ccd6eb')

    handles = [Line2D([], [], color=GREEN, alpha=0.35, lw=1.5),
               Line2D([], [], color='black', lw=1.8, ls=(0, (3, 1.5))),
               Line2D([], [], color=RED, lw=2.5),
               Line2D([], [], color=BROWN, lw=1.8, ls=(0, (3, 1.5)))]
    fig.legend(handles, ['Verstoorde runs', 'Controle', 'Hoge resolutie', 'Middelste (P50)'],
               loc='center', bbox_to_anchor=(fx(459), fy(top + 374)), ncol=4, frameon=False,
               fontsize=8.3, handlelength=1.45, handletextpad=0.45, columnspacing=1.8,
               labelcolor='#333333')
    fig.text(fx(912), fy(top + 393), 'Bron: ECMWF/KNMI', ha='right', va='center',
             fontsize=5.5, color='#999999')
    return ax


draw_panel(1, 'Neerslag (mm, 6 uurlijks)', 24, 2, members, hres, control, p50_6h)
draw_panel(421, 'Neerslagsom (mm)', 120, 10, np.cumsum(members, axis=1), np.cumsum(hres),
           np.cumsum(control), p50_sum)

fig.savefig('out.png', dpi=100)
